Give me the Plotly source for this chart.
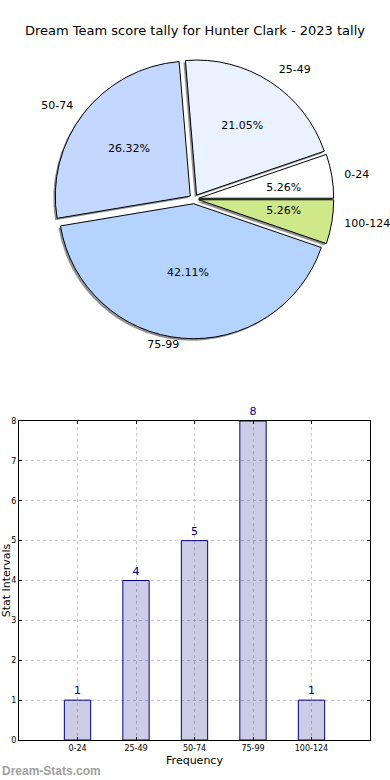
import plotly.graph_objects as go

# ---- data ----
categories = ["0-24", "25-49", "50-74", "75-99", "100-124"]
counts = [1, 4, 5, 8, 1]
pie_colors = ["#ffffff", "#eaf1ff", "#c4d8ff", "#b4d4ff", "#cfe98a"]
title_text = "Dream Team score tally for Hunter Clark - 2023 tally"
y_ticks = [0, 1, 2, 3, 4, 5, 6, 7, 8]

W, H = 390, 780
FONT = "DejaVu Sans"

# pie geometry (pixels)
cx, cy = 194, 199
R = 135
pull = 0.035
half = R * (1 + pull)
# first slice starts at 3 o'clock and runs counterclockwise
rot = 90 - 360 * counts[0] / sum(counts)

total = sum(counts)
small = [c / total < 0.1 for c in counts]


def dom(cxp, cyp, h):
    return dict(x=[(cxp - h) / W, (cxp + h) / W],
                y=[(H - cyp - h) / H, (H - cyp + h) / H])


fig = go.Figure()

common = dict(labels=categories, values=counts, sort=False,
              direction="counterclockwise", rotation=rot, showlegend=False,
              automargin=False)
clear = dict(colors=["rgba(0,0,0,0)"] * 5, line=dict(width=0))

# shadow pie
fig.add_trace(go.Pie(
    **common, pull=[pull] * 5, domain=dom(cx - 2, cy + 2, half),
    marker=dict(colors=["rgba(110,110,110,0.75)"] * 5, line=dict(width=0)),
    textinfo="none", hoverinfo="skip",
))

# main pie (percent inside the large slices)
fig.add_trace(go.Pie(
    **common, pull=[pull] * 5, domain=dom(cx, cy, half),
    marker=dict(colors=pie_colors, line=dict(color="#000000", width=1)),
    texttemplate="%{percent:.2%}",
    textposition=["none" if s else "inside" for s in small],
    insidetextorientation="horizontal",
    textfont=dict(family=FONT, size=11, color="#000000"),
))

# inner transparent pie carrying the percent of the thin slices
fig.add_trace(go.Pie(
    **common, domain=dom(cx, cy, 70), marker=clear,
    texttemplate="%{percent:.2%}",
    textposition=["outside" if s else "none" for s in small],
    outsidetextfont=dict(family=FONT, size=11, color="#000000"),
    hoverinfo="skip",
))

# transparent pies carrying the category labels
label_rings = [
    (149, [True, True, True, False, True]),
    (140, [False, False, False, True, False]),
]
for radius, mask in label_rings:
    fig.add_trace(go.Pie(
        **common, domain=dom(cx, cy, radius), marker=clear,
        texttemplate="%{label}",
        textposition=["outside" if m else "none" for m in mask],
        outsidetextfont=dict(family=FONT, size=11, color="#000000"),
        hoverinfo="skip",
    ))

# bar chart
fig.add_trace(go.Bar(
    x=categories, y=counts, width=0.45,
    marker=dict(color="rgba(0,0,128,0.2)", line=dict(color="#000080", width=1)),
    text=[str(c) for c in counts], textposition="outside",
    textfont=dict(family=FONT, size=11, color="#000080"),
    cliponaxis=False, showlegend=False,
))

fig.update_layout(
    width=W, height=H,
    margin=dict(l=0, r=0, t=0, b=0, autoexpand=False),
    paper_bgcolor="white", plot_bgcolor="white",
    font=dict(family=FONT, color="#000000"),
    title=dict(text=title_text, x=0.5, xanchor="center",
               y=1 - 30 / H, yanchor="middle", automargin=False,
               font=dict(family=FONT, size=13, color="#000000")),
    xaxis=dict(domain=[19 / W, 370 / W], range=[-1, 5], type="category",
               automargin=False,
               showline=True, mirror="ticks", linecolor="#000000", linewidth=1,
               showgrid=True, gridcolor="#c8c8c8", griddash="dot",
               ticks="inside", ticklen=3, tickcolor="#000000",
               tickfont=dict(family=FONT, size=8, color="#000000"),
               title=dict(text="Frequency", font=dict(family=FONT, size=11),
                          standoff=4),
               zeroline=False, fixedrange=True),
    yaxis=dict(domain=[40 / H, 359 / H], range=[0, 8],
               tickvals=y_ticks, automargin=False,
               showline=True, mirror="ticks", linecolor="#000000", linewidth=1,
               showgrid=True, gridcolor="#c8c8c8", griddash="dot",
               ticks="inside", ticklen=3, tickcolor="#000000",
               tickfont=dict(family=FONT, size=8, color="#000000"),
               title=dict(text="Stat Intervals", font=dict(family=FONT, size=11),
                          standoff=2),
               zeroline=False, fixedrange=True),
    annotations=[dict(text="<b>Dream-Stats.com</b>", xref="paper", yref="paper",
                      x=0, y=0, xanchor="left", yanchor="bottom", showarrow=False,
                      font=dict(family="Liberation Sans", size=12, color="#a0a0a0"))],
)

fig.write_html("out.html", config={"displayModeBar": False},
               post_script="document.body.style.margin='0';document.body.style.overflow='hidden';")
